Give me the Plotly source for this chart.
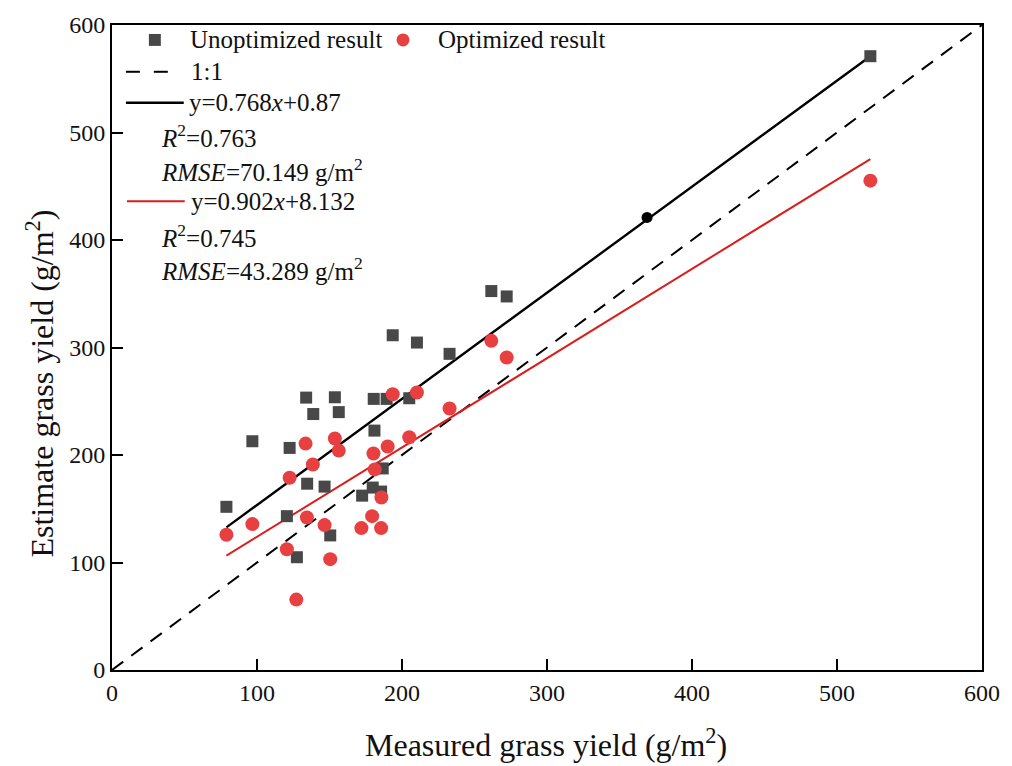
import plotly.graph_objects as go

# ---------------- data ----------------
measured_unopt = [78.9, 96.8, 120.6, 122.5, 127.5, 133.9, 134.6, 138.8, 146.6, 150.5,
                  153.7, 156.4, 172.5, 179.8, 180.5, 181.0, 185.6, 186.7, 189.4, 193.6,
                  205.0, 210.3, 232.8, 261.6, 272.2, 523.0]
estimate_unopt = [151.8, 212.8, 143.1, 206.6, 104.9, 253.4, 173.3, 238.1, 170.6, 125.2,
                  253.7, 239.9, 162.2, 169.7, 252.2, 222.7, 166.0, 187.5, 252.2, 311.4,
                  252.8, 304.6, 294.1, 352.5, 347.5, 571.0]

measured_opt = [78.9, 96.8, 120.6, 122.5, 127.1, 133.5, 134.4, 138.5, 146.6, 150.5,
                153.7, 156.4, 172.0, 179.4, 180.3, 181.2, 185.6, 185.8, 190.1, 193.6,
                205.0, 210.3, 232.8, 261.6, 272.2, 523.0]
estimate_opt = [125.8, 135.7, 112.3, 178.8, 65.5, 210.6, 141.9, 191.2, 134.8, 103.1,
                215.3, 204.1, 132.0, 143.1, 201.4, 186.6, 132.0, 160.4, 207.9, 256.5,
                216.5, 258.1, 243.2, 306.2, 290.7, 455.2]

one_to_one = [0, 600]
fit_x = [78.9, 523.0]
fit_unopt_y = [132.7, 571.0]
fit_opt_y = [106.4, 475.3]
dot_x = [369.0]
dot_y = [421.0]

x_ticks = [0, 100, 200, 300, 400, 500, 600]
y_ticks = [0, 100, 200, 300, 400, 500, 600]

legend_rows = [
    "1:1",
    "y=0.768<i>x</i>+0.87",
    "<i>R</i><sup>2</sup>=0.763",
    "<i>RMSE</i>=70.149 g/m<sup>2</sup>",
    "y=0.902<i>x</i>+8.132",
    "<i>R</i><sup>2</sup>=0.745",
    "<i>RMSE</i>=43.289 g/m<sup>2</sup>",
]

# ---------------- styles ----------------
FONT = "Liberation Serif"
GRAY = "#484848"
RED = "#E84040"
LINE_RED = "#D91E1E"

W, H = 1012, 766
L, R, T, B = 112, 27, 22, 96
PW, PH = W - L - R, H - T - B


def px(x):
    return (x - L) / PW


def py(y):
    return (H - B - y) / PH


fig = go.Figure()

fig.add_trace(go.Scatter(x=one_to_one, y=one_to_one, mode="lines",
                         line=dict(color="black", width=2, dash="14px,10px"),
                         showlegend=False, hoverinfo="skip"))
fig.add_trace(go.Scatter(x=fit_x, y=fit_unopt_y, mode="lines",
                         line=dict(color="black", width=2.4),
                         showlegend=False, hoverinfo="skip"))
fig.add_trace(go.Scatter(x=fit_x, y=fit_opt_y, mode="lines",
                         line=dict(color=LINE_RED, width=2),
                         showlegend=False, hoverinfo="skip"))
fig.add_trace(go.Scatter(x=measured_unopt, y=estimate_unopt, mode="markers",
                         marker=dict(symbol="square", size=12, color=GRAY),
                         name="Unoptimized result", showlegend=False))
fig.add_trace(go.Scatter(x=measured_opt, y=estimate_opt, mode="markers",
                         marker=dict(symbol="circle", size=14, color=RED),
                         name="Optimized result", showlegend=False))
fig.add_trace(go.Scatter(x=dot_x, y=dot_y, mode="markers",
                         marker=dict(symbol="circle", size=11, color="black"),
                         showlegend=False, hoverinfo="skip"))

shapes = []
annotations = []
lfont = dict(family=FONT, size=25, color="#111111")

# legend row 1: markers + labels
shapes.append(dict(type="rect", xref="paper", yref="paper",
                   x0=px(149), x1=px(161), y0=py(43), y1=py(31),
                   fillcolor=GRAY, line=dict(width=0)))
shapes.append(dict(type="circle", xref="paper", yref="paper",
                   x0=px(397.5), x1=px(410.5), y0=py(43.5), y1=py(30.5),
                   fillcolor=RED, line=dict(width=0)))
annotations.append(dict(text="Unoptimized result", xref="paper", yref="paper",
                        x=px(188), y=py(37), xanchor="left", yanchor="middle",
                        showarrow=False, font=lfont))
annotations.append(dict(text="Optimized result", xref="paper", yref="paper",
                        x=px(437), y=py(37), xanchor="left", yanchor="middle",
                        showarrow=False, font=lfont))

# dashed sample
for a, b in [(126, 140), (154, 168)]:
    shapes.append(dict(type="line", xref="paper", yref="paper",
                       x0=px(a), x1=px(b), y0=py(69), y1=py(69),
                       line=dict(color="black", width=2)))
# solid samples
shapes.append(dict(type="line", xref="paper", yref="paper",
                   x0=px(126), x1=px(184), y0=py(100), y1=py(100),
                   line=dict(color="black", width=2.5)))
shapes.append(dict(type="line", xref="paper", yref="paper",
                   x0=px(127), x1=px(185), y0=py(199), y1=py(199),
                   line=dict(color=LINE_RED, width=2)))

row_pos = [(189, 69), (187, 100), (159, 134), (159, 168), (189, 199), (159, 234), (159, 267)]
for txt, (xx, yy) in zip(legend_rows, row_pos):
    annotations.append(dict(text=txt, xref="paper", yref="paper",
                            x=px(xx), y=py(yy), xanchor="left", yanchor="middle",
                            showarrow=False, font=lfont))

# axis titles
tfont = dict(family=FONT, size=32, color="#111111")
annotations.append(dict(text="Measured grass yield (g/m<sup>2</sup>)", xref="paper", yref="paper",
                        x=px(547), y=py(743), xanchor="center", yanchor="middle",
                        showarrow=False, font=tfont))
annotations.append(dict(text="Estimate grass yield (g/m<sup>2</sup>)", xref="paper", yref="paper",
                        x=px(40), y=py(382), xanchor="center", yanchor="middle",
                        textangle=-90, showarrow=False, font=tfont))

axis_common = dict(showgrid=False, zeroline=False, showline=True, linecolor="black",
                   linewidth=2, mirror=True, ticks="inside", ticklen=11, tickwidth=2,
                   tickcolor="black",
                   tickfont=dict(family=FONT, size=24, color="#111111"))

fig.update_layout(
    width=W, height=H,
    margin=dict(l=L, r=R, t=T, b=B),
    paper_bgcolor="white", plot_bgcolor="white",
    xaxis=dict(range=[0, 600], tickvals=x_ticks, **axis_common),
    yaxis=dict(range=[0, 600], tickvals=y_ticks, **axis_common),
    shapes=shapes, annotations=annotations,
    showlegend=False,
)

fig.write_html("out.html")
